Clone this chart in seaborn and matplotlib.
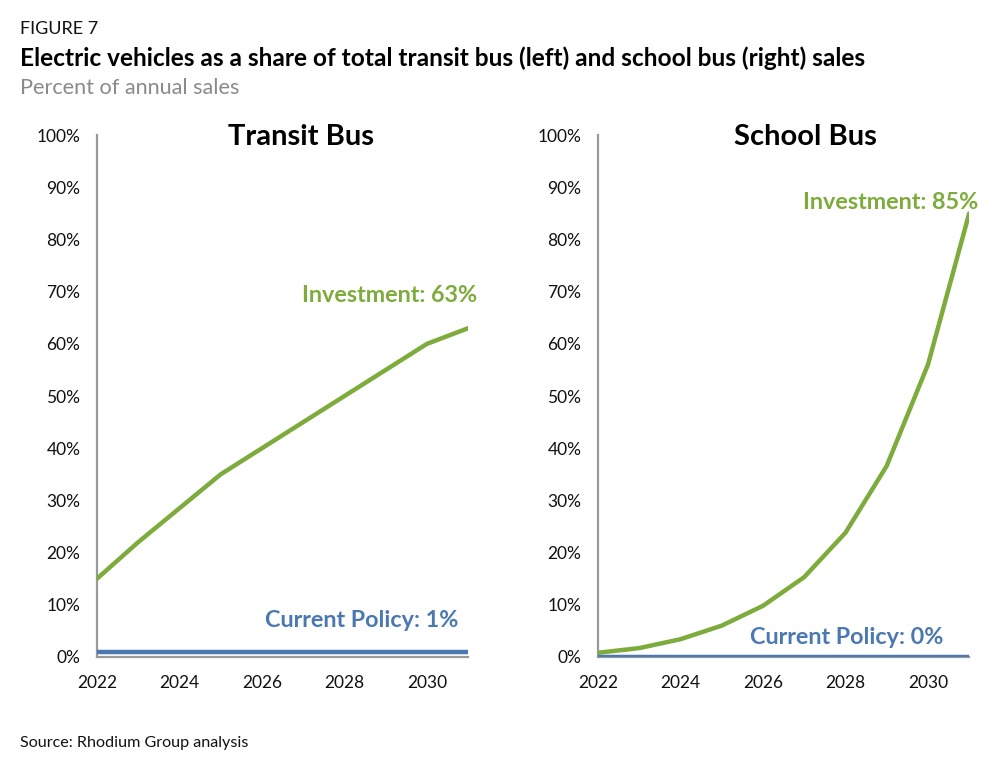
import numpy as np
import pandas as pd
import matplotlib
matplotlib.use("Agg")
import matplotlib.pyplot as plt
import seaborn as sns

# data
years = list(range(2022, 2032))
transit_investment = [15, 22, 28.5, 35, 40, 45, 50, 55, 60, 63]
transit_current = [1, 1, 1, 1, 1, 1, 1, 1, 1, 1]
school_investment = [0.8, 1.7, 3.4, 6, 9.8, 15.3, 23.8, 36.6, 56, 85]
school_current = [0, 0, 0, 0, 0, 0, 0, 0, 0, 0]

GREEN = "#7dab3c"
BLUE = "#4a78b0"
SPINE = "#9a9a9a"

sns.set_theme(style="white")
plt.rcParams["font.family"] = ["Lato", "DejaVu Sans"]

fig = plt.figure(figsize=(10.06, 7.72), dpi=100)
ax_l = fig.add_axes([0.0964, 0.149, 0.369, 0.676])
ax_r = fig.add_axes([0.5944, 0.149, 0.369, 0.676])

panels = [
    (ax_l, "Transit Bus", transit_investment, transit_current,
     "Investment: 63%", "Current Policy: 1%", (1.024, 0.692), (0.973, 0.069), 0.55),
    (ax_r, "School Bus", school_investment, school_current,
     "Investment: 85%", "Current Policy: 0%", (1.024, 0.870), (0.930, 0.038), 0.558),
]

for ax, title, inv, cur, inv_lbl, cur_lbl, inv_pos, cur_pos, tx in panels:
    df = pd.DataFrame({"year": years * 2, "share": inv + cur,
                       "scenario": ["Investment"] * len(years) + ["Current Policy"] * len(years)})
    sns.lineplot(data=df, x="year", y="share", hue="scenario",
                 palette={"Investment": GREEN, "Current Policy": BLUE},
                 linewidth=3.2, legend=False, ax=ax, zorder=3)
    ax.set_xlim(2022, 2031)
    ax.set_ylim(0, 100)
    ax.set_xticks([2022, 2024, 2026, 2028, 2030])
    ax.set_yticks(range(0, 101, 10))
    ax.set_yticklabels([f"{v}%" for v in range(0, 101, 10)])
    ax.set_xlabel("")
    ax.set_ylabel("")
    ax.tick_params(axis="y", length=0, pad=12, labelsize=12.5, colors="#111111")
    ax.tick_params(axis="x", length=0, pad=13, labelsize=12.5, colors="#111111")
    for s in ["top", "right"]:
        ax.spines[s].set_visible(False)
    for s in ["left", "bottom"]:
        ax.spines[s].set_color(SPINE)
        ax.spines[s].set_linewidth(1.6)
    ax.text(tx, 0.997, title, transform=ax.transAxes, ha="center", va="center",
            fontsize=21, fontweight="bold", color="#000000")
    ax.text(inv_pos[0], inv_pos[1], inv_lbl, transform=ax.transAxes, ha="right", va="center",
            fontsize=16.8, fontweight="bold", color=GREEN)
    ax.text(cur_pos[0], cur_pos[1], cur_lbl, transform=ax.transAxes, ha="right", va="center",
            fontsize=16.8, fontweight="bold", color=BLUE)

fig.text(0.02, 0.963, "FIGURE 7", fontsize=13, color="#111111", va="center")
fig.text(0.02, 0.925, "Electric vehicles as a share of total transit bus (left) and school bus (right) sales",
         fontsize=17.6, fontweight="bold", color="#000000", va="center")
fig.text(0.02, 0.886, "Percent of annual sales", fontsize=15.6, color="#8a8a8a", va="center")
fig.text(0.02, 0.038, "Source: Rhodium Group analysis", fontsize=11.6, color="#111111", va="center")

fig.savefig("out.png", dpi=100)
